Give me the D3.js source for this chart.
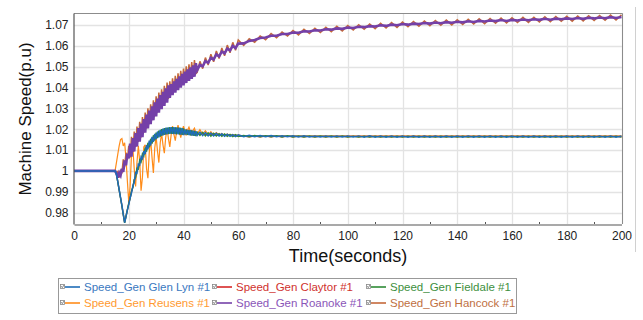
<!DOCTYPE html>
<html><head><meta charset="utf-8">
<script src="https://cdn.jsdelivr.net/npm/d3@7"></script>
<style>html,body{margin:0;padding:0;background:#fff;}svg{display:block;font-family:"Liberation Sans",Arial,sans-serif;}</style>
</head><body><svg id="c" width="643" height="320"></svg>
<script>
// ---------- data ----------
const time = [0,15,15.5,16,16.5,17,17.5,18,18.5,19,19.5,20,20.5,21,21.5,22,22.5,23,23.5,24,24.5,25,25.5,26,26.5,27,27.5,28,28.5,29,29.5,30,30.5,31,31.5,32,32.5,33,33.5,34,34.5,35,35.5,36,36.5,37,37.5,38,38.5,39,39.5,40,40.5,41,41.5,42,42.5,43,43.5,44,44.5,45,46,47,48,49,50,51,52,53,54,55,56,57,58,59,60,62,64,66,68,70,72,74,76,78,80,82,84,86,88,90,92,94,96,98,100,102,104,106,108,110,112,114,116,118,120,122,124,126,128,130,132,134,136,138,140,142,144,146,148,150,152,154,156,158,160,162,164,166,168,170,172,174,176,178,180,182,184,186,188,190,192,194,196,198,200];

const glenLyn = [1.0,
1.0,0.9985,0.9948,0.991,0.9872,0.9834,0.9792,0.9752,0.978,0.9812,
0.9838,0.987,0.9893,0.9928,0.9945,0.9992,0.9988,1.0032,1.0028,1.0067,
1.0058,1.0095,1.008,1.0124,1.0103,1.0145,1.0122,1.0163,1.0139,1.0178,
1.0152,1.0189,1.0161,1.0197,1.0168,1.0203,1.0173,1.0207,1.0176,1.0209,
1.0178,1.021,1.0178,1.021,1.0177,1.0209,1.0176,1.0207,1.0174,1.0205,
1.0172,1.0199,1.0174,1.0197,1.0172,1.0195,1.017,1.0193,1.0168,1.0191,
1.017,1.0186,1.0169,1.0184,1.0168,1.0182,1.0168,1.018,1.0167,1.0178,1.0166,1.0176,1.0166,1.0174,1.0165,1.0173,
1.0164,1.0171,1.0164,1.017,1.0164,1.017,1.0164,1.0169,1.0164,1.0169,
1.0163,1.0169,1.0163,1.0168,1.0163,1.0168,1.0163,1.0168,1.0163,1.0168,
1.0163,1.0168,1.0162,1.0168,1.0162,1.0167,1.0162,1.0167,1.0162,1.0167,
1.0162,1.0167,1.0162,1.0167,1.0162,1.0167,1.0162,1.0167,1.0162,1.0167,
1.0162,1.0167,1.0162,1.0167,1.0162,1.0167,1.0162,1.0167,1.0162,1.0167,
1.0162,1.0167,1.0162,1.0167,1.0162,1.0167,1.0162,1.0167,1.0162,1.0167,
1.0162,1.0167,1.0162,1.0167,1.0162,1.0167,1.0162,1.0167,1.0162,1.0167];

const claytor = [1.0,
1.0,0.9985,0.9947,0.9909,0.9871,0.9833,0.9791,0.9753,0.9783,0.9813,
0.9843,0.9869,0.99,0.9922,0.9955,0.9975,1.0005,1.0016,1.004,1.005,
1.0074,1.0078,1.0102,1.0103,1.0125,1.0122,1.0145,1.0138,1.016,1.0152,
1.0172,1.0163,1.0183,1.0171,1.0191,1.0177,1.0197,1.018,1.02,1.0182,
1.0202,1.0183,1.0202,1.0183,1.0201,1.0182,1.02,1.0181,1.0199,1.018,
1.0197,1.0179,1.0195,1.0178,1.0193,1.0177,1.0191,1.0176,1.0189,1.0175,
1.0185,1.0174,1.0183,1.0173,1.018,1.0172,1.0178,1.0171,1.0176,1.017,1.0174,1.0169,1.0173,1.0168,1.0171,1.0167,
1.0167,1.0163,1.0167,1.0163,1.0167,1.0163,1.0167,1.0163,1.0167,1.0163,
1.0167,1.0163,1.0167,1.0163,1.0167,1.0163,1.0167,1.0163,1.0167,1.0163,
1.0167,1.0163,1.0167,1.0163,1.0167,1.0163,1.0167,1.0163,1.0167,1.0163,
1.0167,1.0163,1.0167,1.0163,1.0167,1.0163,1.0167,1.0163,1.0167,1.0163,
1.0167,1.0163,1.0167,1.0163,1.0167,1.0163,1.0167,1.0163,1.0167,1.0163,
1.0167,1.0163,1.0167,1.0163,1.0167,1.0163,1.0167,1.0163,1.0167,1.0163,
1.0167,1.0163,1.0167,1.0163,1.0167,1.0163,1.0167,1.0163,1.0167,1.0163];

const fieldale = [1.0,
1.0,0.9984,0.9946,0.9908,0.987,0.9832,0.979,0.975,0.9782,0.9814,
0.9845,0.9868,0.9902,0.992,0.9958,0.9968,1.0012,1.0008,1.0052,1.0043,
1.0082,1.0071,1.0112,1.0092,1.0135,1.0113,1.0154,1.0131,1.0171,1.0146,
1.0184,1.0157,1.0193,1.0165,1.02,1.0171,1.0205,1.0175,1.0208,1.0177,
1.021,1.0178,1.021,1.0178,1.0209,1.0177,1.0208,1.0175,1.0206,1.0173,
1.0204,1.0175,1.0198,1.0173,1.0196,1.0171,1.0194,1.0169,1.0192,1.0167,
1.0186,1.017,1.0185,1.0168,1.0183,1.0167,1.0181,1.0167,1.0179,1.0166,1.0177,1.0166,1.0175,1.0165,1.0174,1.0165,
1.017,1.0164,1.017,1.0164,1.0169,1.0164,1.0169,1.0163,1.0169,1.0163,
1.0168,1.0163,1.0168,1.0163,1.0168,1.0163,1.0168,1.0162,1.0168,1.0162,
1.0167,1.0162,1.0167,1.0162,1.0167,1.0162,1.0167,1.0162,1.0167,1.0162,
1.0167,1.0162,1.0167,1.0162,1.0167,1.0162,1.0167,1.0162,1.0167,1.0162,
1.0167,1.0162,1.0167,1.0162,1.0167,1.0162,1.0167,1.0162,1.0167,1.0162,
1.0167,1.0162,1.0167,1.0162,1.0167,1.0162,1.0167,1.0162,1.0167,1.0162,
1.0167,1.0162,1.0167,1.0162,1.0167,1.0162,1.0167,1.0162,1.0167,1.0162];

const reusens = [1.0,
1.0,1.004,1.008,1.012,1.015,1.0155,1.012,1.0135,1.006,0.995,
0.985,0.9925,1.008,1.011,1.001,0.9925,1.004,1.012,1.0045,0.9905,
0.997,1.0115,1.0125,1.001,0.9965,1.009,1.015,1.0065,0.999,1.011,
1.0165,1.0095,1.004,1.0135,1.018,1.0125,1.0085,1.016,1.0205,1.0155,
1.0115,1.0175,1.0215,1.0175,1.0145,1.019,1.022,1.019,1.016,1.0195,
1.0215,1.0192,1.017,1.0196,1.021,1.019,1.0175,1.0195,1.0205,1.0185,
1.0178,1.0198,1.0176,1.0193,1.0174,1.0188,1.0172,1.0184,1.0171,1.018,1.017,1.0177,1.0169,1.0175,1.0168,1.0173,
1.0166,1.0169,1.0166,1.0169,1.0166,1.0169,1.0166,1.0169,1.0166,1.0169,
1.0166,1.0169,1.0166,1.0169,1.0166,1.0169,1.0166,1.0169,1.0166,1.0169,
1.0166,1.0169,1.0166,1.0169,1.0166,1.0169,1.0166,1.0169,1.0166,1.0169,
1.0166,1.0169,1.0166,1.0169,1.0166,1.0169,1.0166,1.0169,1.0166,1.0169,
1.0166,1.0169,1.0166,1.0169,1.0166,1.0169,1.0166,1.0169,1.0166,1.0169,
1.0166,1.0169,1.0166,1.0169,1.0166,1.0169,1.0166,1.0169,1.0166,1.0169,
1.0166,1.0169,1.0166,1.0169,1.0166,1.0169,1.0166,1.0169,1.0166,1.0169];

const roanoke = [1.0,
1.0,0.9988,0.9968,0.999,0.9978,1.001,0.9995,1.005,1.0027,1.0083,
1.006,1.0131,1.0068,1.0157,1.0093,1.0181,1.0117,1.0205,1.014,1.0227,
1.0162,1.0249,1.0184,1.027,1.0204,1.029,1.0224,1.031,1.0243,1.0329,
1.0262,1.0347,1.028,1.0364,1.0296,1.038,1.0312,1.0396,1.0328,1.0411,
1.035,1.0417,1.0364,1.043,1.0376,1.0442,1.0388,1.0454,1.04,1.0466,
1.0411,1.0477,1.0422,1.0487,1.0432,1.0497,1.0442,1.0507,1.0452,1.0517,
1.0484,1.0509,1.0502,1.0527,1.0519,1.0543,1.0535,1.0559,1.055,1.0573,1.0564,1.0587,1.0578,1.06,1.059,1.0611,
1.0612,1.0624,1.0628,1.0638,1.064,1.0649,1.0649,1.0657,1.0657,1.0664,
1.0663,1.067,1.0669,1.0675,1.0674,1.068,1.0678,1.0684,1.0682,1.0688,
1.0686,1.0692,1.069,1.0695,1.0693,1.0699,1.0696,1.0702,1.0699,1.0705,
1.0702,1.0707,1.0705,1.071,1.0707,1.0712,1.0709,1.0714,1.0711,1.0716,
1.0713,1.0718,1.0715,1.072,1.0717,1.0722,1.0719,1.0724,1.072,1.0725,
1.0722,1.0727,1.0723,1.0728,1.0725,1.073,1.0726,1.0731,1.0728,1.0732,
1.0729,1.0734,1.073,1.0735,1.0732,1.0736,1.0733,1.0738,1.0734,1.0739];

const hancock = [1.0,
1.0,0.9988,0.9996,0.9968,1.0006,0.9988,1.0055,1.002,1.0087,1.0053,
1.012,1.0065,1.0164,1.0091,1.0189,1.0115,1.0213,1.0139,1.0236,1.0161,
1.0258,1.0183,1.028,1.0204,1.03,1.0224,1.032,1.0244,1.0339,1.0263,
1.0358,1.0281,1.0376,1.0298,1.0392,1.0314,1.0408,1.033,1.0424,1.0345,
1.043,1.0367,1.0444,1.038,1.0456,1.0392,1.0468,1.0404,1.048,1.0416,
1.0491,1.0427,1.0502,1.0437,1.0512,1.0447,1.0522,1.0457,1.0532,1.0467,
1.0473,1.0526,1.0491,1.0544,1.0508,1.056,1.0524,1.0576,1.0539,1.059,1.0553,1.0604,1.0567,1.0617,1.0579,1.0629,
1.0602,1.0634,1.0618,1.0648,1.063,1.0659,1.0639,1.0667,1.0647,1.0674,
1.0653,1.068,1.0659,1.0685,1.0664,1.069,1.0668,1.0694,1.0672,1.0698,
1.0676,1.0702,1.068,1.0705,1.0683,1.0709,1.0686,1.0712,1.0689,1.0715,
1.0692,1.0717,1.0695,1.072,1.0697,1.0722,1.0699,1.0724,1.0701,1.0726,
1.0703,1.0728,1.0705,1.073,1.0707,1.0732,1.0709,1.0734,1.071,1.0735,
1.0712,1.0737,1.0713,1.0738,1.0715,1.074,1.0716,1.0741,1.0718,1.0742,
1.0719,1.0744,1.072,1.0745,1.0722,1.0746,1.0723,1.0748,1.0724,1.0749];

const seriesNames = ["Speed_Gen Glen Lyn #1","Speed_Gen Claytor #1","Speed_Gen Fieldale #1",
                     "Speed_Gen Reusens #1","Speed_Gen Roanoke #1","Speed_Gen Hancock #1"];
const seriesValues = [glenLyn, claytor, fieldale, reusens, roanoke, hancock];
const xTicks = [0,20,40,60,80,100,120,140,160,180,200];
const xTickLabels = ["0","20","40","60","80","100","120","140","160","180","200"];
const xMinorTicks = [10,30,50,70,90,110,130,150,170,190];
const yTicks = [0.98,0.99,1.0,1.01,1.02,1.03,1.04,1.05,1.06,1.07];
const yTickLabels = ["0.98","0.99","1","1.01","1.02","1.03","1.04","1.05","1.06","1.07"];
const xTitle = "Time(seconds)";
const yTitle = "Machine Speed(p.u)";

// ---------- styles ----------
const colors = ["#1f6cb6","#d62728","#2e8b35","#ff8c1a","#7440a8","#c4693a"];
const textColors = ["#3a78c0","#d0312d","#3d8f3d","#ff9a30","#8a55b8","#c0703f"];
const widths = [1.5,1.3,1.4,1.2,2.6,1.5];
const drawOrder = [3,1,2,5,4,0];

const svg = d3.select("#c");
svg.append("rect").attr("width",643).attr("height",320).attr("fill","#fff");

const L = 74, R = 622, T = 13, B = 224;
const x = d3.scaleLinear().domain([0,200]).range([L, 621.5]);
const y = d3.scaleLinear().domain([0.9745,1.0758]).range([B, T]);

// outer light frame line on the right
svg.append("line").attr("x1",635.5).attr("x2",635.5).attr("y1",7).attr("y2",252)
  .attr("stroke","#d0d0d0").attr("stroke-width",1);

// grid
const grid = svg.append("g");
grid.selectAll("line.h").data(yTicks).join("line")
  .attr("x1",L).attr("x2",R)
  .attr("y1",d=>Math.round(y(d))+0.5).attr("y2",d=>Math.round(y(d))+0.5)
  .attr("stroke","#e3e3e3").attr("stroke-width",1.3);
grid.selectAll("line.v").data(xTicks.slice(1)).join("line")
  .attr("y1",T).attr("y2",B)
  .attr("x1",d=>Math.round(x(d))+0.5).attr("x2",d=>Math.round(x(d))+0.5)
  .attr("stroke","#e3e3e3").attr("stroke-width",1.3);

// frame top/right
svg.append("path").attr("d",`M${L},${T+0.5}H${R+0.5}V${B}`).attr("fill","none").attr("stroke","#8c8c8c").attr("stroke-width",1);

// lines
svg.append("clipPath").attr("id","clip").append("rect").attr("x",L).attr("y",T).attr("width",R-L).attr("height",B-T);
const line = d3.line().x(d=>x(d[0])).y(d=>y(d[1]));
const lg = svg.append("g").attr("clip-path","url(#clip)");
drawOrder.forEach(i=>{
  lg.append("path").datum(time.map((t,k)=>[t,seriesValues[i][k]]))
    .attr("d",line).attr("fill","none").attr("stroke",colors[i])
    .attr("stroke-width",widths[i]).attr("stroke-linejoin","miter").attr("stroke-miterlimit",3);
});

// axes
const xAxis = svg.append("g").attr("transform",`translate(0,${B+0.5})`)
  .call(d3.axisBottom(x).tickValues(xTicks).tickFormat((d,i)=>xTickLabels[i]).tickSize(0).tickPadding(7));
const yAxis = svg.append("g").attr("transform",`translate(${L-0.5},0)`)
  .call(d3.axisLeft(y).tickValues(yTicks).tickFormat((d,i)=>yTickLabels[i]).tickSize(0).tickPadding(5));
[xAxis,yAxis].forEach(a=>{
  a.select(".domain").attr("stroke","#555").attr("stroke-width",1.2);
  a.selectAll("text").attr("font-size",12).attr("fill","#222").attr("font-family","'Liberation Sans',Arial,sans-serif");
});
svg.append("g").selectAll("line").data(xMinorTicks).join("line")
  .attr("x1",d=>Math.round(x(d))+0.5).attr("x2",d=>Math.round(x(d))+0.5)
  .attr("y1",B-2).attr("y2",B).attr("stroke","#555");

// titles
svg.append("text").attr("x",348).attr("y",262).attr("text-anchor","middle")
  .attr("font-size",18).attr("fill","#111").text(xTitle);
svg.append("text").attr("transform","translate(31,119) rotate(-90)").attr("text-anchor","middle")
  .attr("font-size",17).attr("fill","#111").text(yTitle);

// legend
const leg = svg.append("g");
leg.append("rect").attr("x",58.5).attr("y",278.5).attr("width",458).attr("height",35)
  .attr("fill","#fff").attr("stroke","#999");
const colX = [60,212,366];
const rowY = [287,303];
seriesNames.forEach((n,i)=>{
  const cx = colX[i%3], cy = rowY[Math.floor(i/3)];
  const g = leg.append("g").attr("transform",`translate(${cx},${cy})`);
  g.append("rect").attr("x",0.5).attr("y",-2.5).attr("width",4).attr("height",4).attr("fill","#fff").attr("stroke","#888").attr("stroke-width",0.8);
  g.append("path").attr("d","M1.2,-0.8L2.3,0.6L4,-2").attr("fill","none").attr("stroke","#555").attr("stroke-width",0.7);
  g.append("line").attr("x1",5).attr("x2",20).attr("y1",0).attr("y2",0).attr("stroke",colors[i]).attr("stroke-width",1.6);
  g.append("text").attr("x",24).attr("y",4).attr("font-size",11.5).attr("fill",textColors[i]).text(n);
});
</script></body></html>
